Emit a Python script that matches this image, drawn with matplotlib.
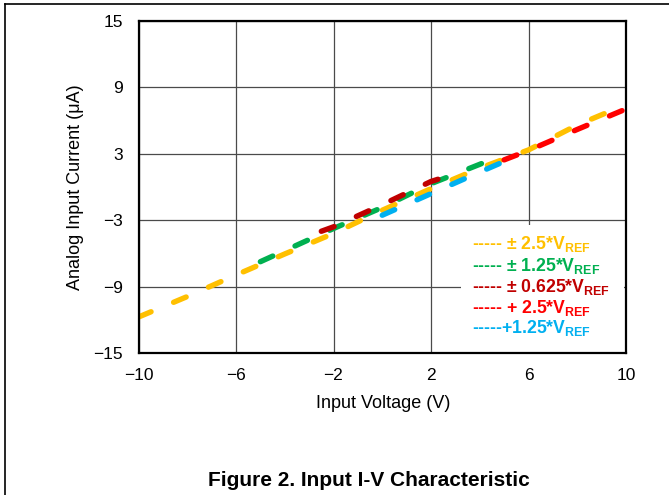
import matplotlib
matplotlib.use("Agg")
import matplotlib.pyplot as plt
from matplotlib.patches import Rectangle
from matplotlib.lines import Line2D

plt.rcParams['font.family'] = ['Liberation Sans', 'DejaVu Sans']
plt.rcParams['mathtext.fontset'] = 'custom'
plt.rcParams['mathtext.rm'] = 'Liberation Sans'
plt.rcParams['mathtext.bf'] = 'Liberation Sans:bold'

# ---- data ----
orange_v = [-10, -8, -6, -4, -2, 0, 2, 4, 6, 8, 10]
orange_i = [-11.75, -9.9, -7.95, -6.05, -4.2, -2.1, -0.15, 1.7, 3.35, 5.6, 7.45]

green_v = [-5, -4, -2, 0, 2, 4, 4.5]
green_i = [-6.75, -5.75, -3.75, -1.85, 0.3, 2.05, 2.5]

darkred_v = [-2.5, -2, 0, 2, 2.5]
darkred_i = [-4.0, -3.6, -1.6, 0.5, 0.85]

red_v = [5, 6, 8, 10]
red_i = [2.45, 3.3, 5.2, 7.05]

blue_v = [0, 2, 4, 5]
blue_i = [-2.55, -0.6, 1.35, 2.3]

series_labels = ["----- \u00b1 2.5*V", "----- \u00b1 1.25*V", "----- \u00b1 0.625*V",
                 "----- + 2.5*V", "-----+1.25*V"]
series_colors = ["#FFC000", "#00B050", "#C00000", "#FF0000", "#00B0F0"]

x_ticks = [-10, -6, -2, 2, 6, 10]
y_ticks = [-15, -9, -3, 3, 9, 15]

W, H = 669, 495
fig = plt.figure(figsize=(W / 100, H / 100), dpi=100)
L, R, T, B = 138.5, 626.0, 21.0, 353.0
ax = fig.add_axes([L / W, 1 - B / H, (R - L) / W, (B - T) / H])

lw = 3.9
on_pt, off_pt = 9.8, 17.6
ls = (0, (on_pt / lw, off_pt / lw))

data = [(orange_v, orange_i), (green_v, green_i), (darkred_v, darkred_i),
        (red_v, red_i), (blue_v, blue_i)]
for (v, i), c in zip(data, series_colors):
    ax.plot(v, i, color=c, lw=lw, linestyle=ls, dash_capstyle='round', zorder=3)

ax.set_xlim(-10, 10)
ax.set_ylim(-15, 15)
ax.set_xticks(x_ticks)
ax.set_yticks(y_ticks)
ax.grid(True, color='#4a4a4a', lw=0.9)
ax.set_axisbelow(True)
ax.tick_params(length=0, labelsize=12.5)
ax.tick_params(axis='x', pad=11)
ax.tick_params(axis='y', pad=11)
for s in ax.spines.values():
    s.set_linewidth(1.6)
    s.set_color('black')
    s.set_zorder(4)

# white area behind the legend
x0 = -10 + (461 - L) / (R - L) * 20
y1 = 15 - (225 - T) / (B - T) * 30
ax.add_patch(Rectangle((x0, -14.9), 9.93 - x0, y1 + 14.9, facecolor='white',
                       edgecolor='none', zorder=2))

# legend text
baselines = [249, 271, 292, 313, 333]
for lab, c, yb in zip(series_labels, series_colors, baselines):
    fig.text(472.3 / W, 1 - yb / H, lab + r"$_{\mathbf{REF}}$", color=c,
             fontsize=12.7, fontweight='bold', ha='left', va='baseline')

fig.text(382.7 / W, 1 - 404 / H, "Input Voltage (V)", fontsize=13,
         ha='center', va='center')
fig.text(75 / W, 1 - 187 / H, "Analog Input Current (\u03bcA)", fontsize=13,
         rotation=90, ha='center', va='center')
fig.text(369 / W, 1 - 481 / H, "Figure 2. Input I-V Characteristic", fontsize=15,
         fontweight='bold', ha='center', va='center')

# outer frame (top and left)
fig.add_artist(Line2D([5 / W, 1], [1 - 4 / H, 1 - 4 / H], color='black', lw=1.2))
fig.add_artist(Line2D([5 / W, 5 / W], [0, 1 - 4 / H], color='black', lw=1.2))

fig.savefig("out.png", dpi=100)
